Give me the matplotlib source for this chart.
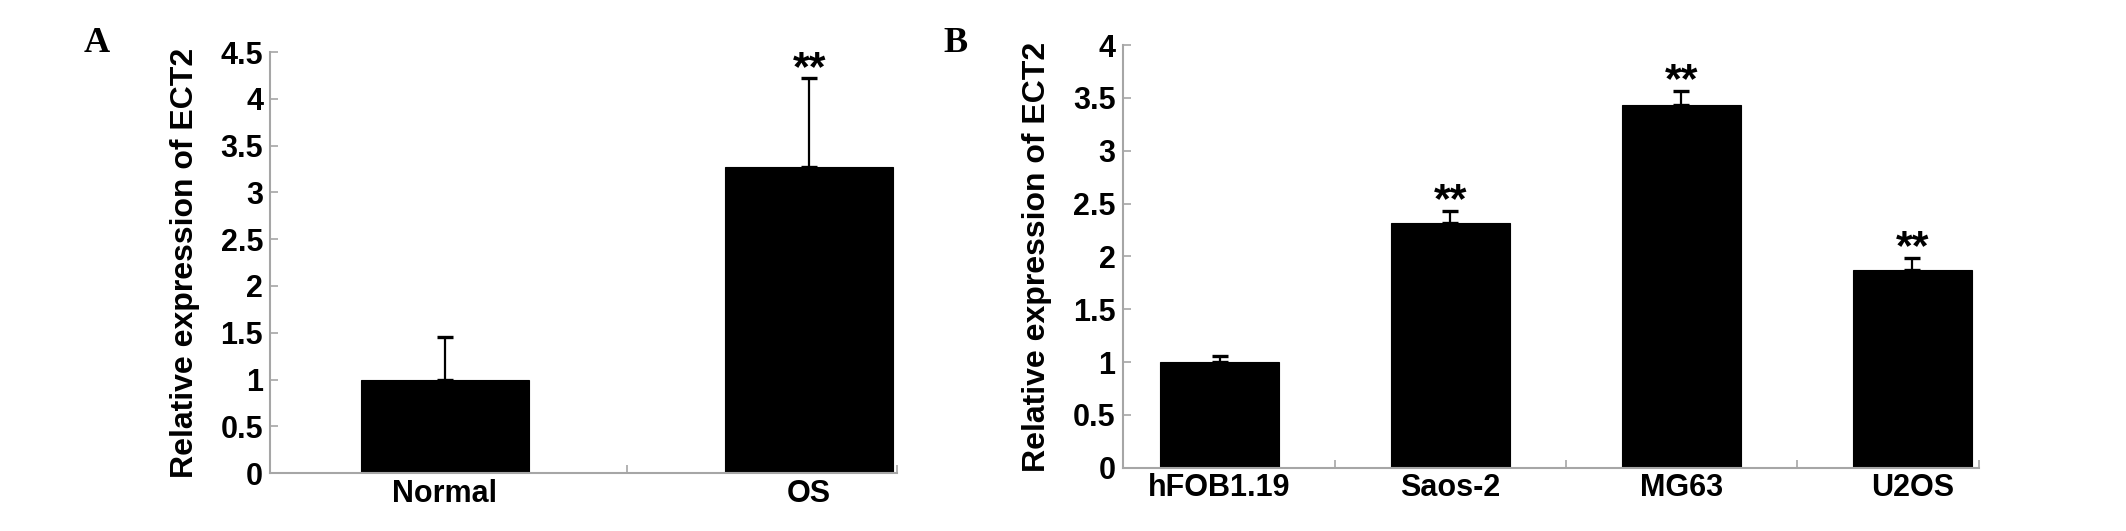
import matplotlib
matplotlib.use('Agg')
import matplotlib.pyplot as plt
from matplotlib.ticker import FuncFormatter, MultipleLocator, FixedLocator

plt.rcParams['font.family'] = ['Liberation Sans', 'DejaVu Sans']

# panel A
groups_a = ['Normal', 'OS']
means_a = [1.0, 3.27]
errs_a = [0.45, 0.95]
stars_a = ['', '**']

# panel B
groups_b = ['hFOB1.19', 'Saos-2', 'MG63', 'U2OS']
means_b = [1.0, 2.32, 3.43, 1.875]
errs_b = [0.06, 0.11, 0.14, 0.11]
stars_b = ['', '**', '**', '**']

ylabel = 'Relative expression of ECT2'
axis_grey = '#a6a6a6'


def draw_panel(ax, names, means, errs, stars, width, xlim, ymax, label_x):
    x = list(range(len(names)))
    ax.bar(x, means, width=width, color='black', edgecolor='black', linewidth=0.8)
    ax.errorbar(x, means, yerr=[[0] * len(errs), errs], fmt='none', ecolor='black',
                elinewidth=1.6, capsize=5.5, capthick=2.4)
    for xi, m, e, s in zip(x, means, errs, stars):
        if s:
            ax.annotate(s, (xi, m + e), xytext=(0, -1), textcoords='offset points',
                        ha='center', va='baseline', fontsize=31, fontweight='bold')

    ax.set_xlim(*xlim)
    ax.set_ylim(0, ymax)
    ax.spines['top'].set_visible(False)
    ax.spines['right'].set_visible(False)
    for sp in ('left', 'bottom'):
        ax.spines[sp].set_color(axis_grey)
        ax.spines[sp].set_linewidth(1.5)

    ax.yaxis.set_major_locator(MultipleLocator(0.5))
    ax.yaxis.set_major_formatter(FuncFormatter(lambda v, p: f'{v:g}'))
    ax.tick_params(axis='y', direction='in', length=6, width=1.2, color=axis_grey,
                   labelsize=22, pad=5)
    for t in ax.get_yticklabels():
        t.set_fontweight('bold')

    ax.set_xticks(x)
    ax.set_xticklabels(names, fontsize=22, fontweight='bold')
    ax.tick_params(axis='x', which='major', length=0, pad=4)
    bounds = [i + 0.5 for i in x[:-1]] + [xlim[1]]
    ax.xaxis.set_minor_locator(FixedLocator(bounds))
    ax.tick_params(axis='x', which='minor', direction='in', length=6, width=1.2,
                   color=axis_grey)

    ax.set_ylabel(ylabel, fontsize=23, fontweight='bold')
    ax.yaxis.set_label_coords(label_x, 0.5)


fig = plt.figure(figsize=(21.26, 5.31), dpi=100)
ax_a = fig.add_axes([0.127, 0.109, 0.295, 0.793])
ax_b = fig.add_axes([0.528, 0.119, 0.403, 0.796])

draw_panel(ax_a, groups_a, means_a, errs_a, stars_a, 0.46, (-0.479, 1.241), 4.5, -0.112)
draw_panel(ax_b, groups_b, means_b, errs_b, stars_b, 0.515, (-0.42, 3.29), 4.0, -0.082)

fig.text(97 / 2126, 1 - 43 / 531, 'A', family='Liberation Serif', fontsize=26,
         fontweight='bold', ha='center', va='center')
fig.text(955 / 2126, 1 - 43 / 531, 'B', family='Liberation Serif', fontsize=26,
         fontweight='bold', ha='center', va='center')

fig.savefig('out.png', dpi=100, facecolor='white')
